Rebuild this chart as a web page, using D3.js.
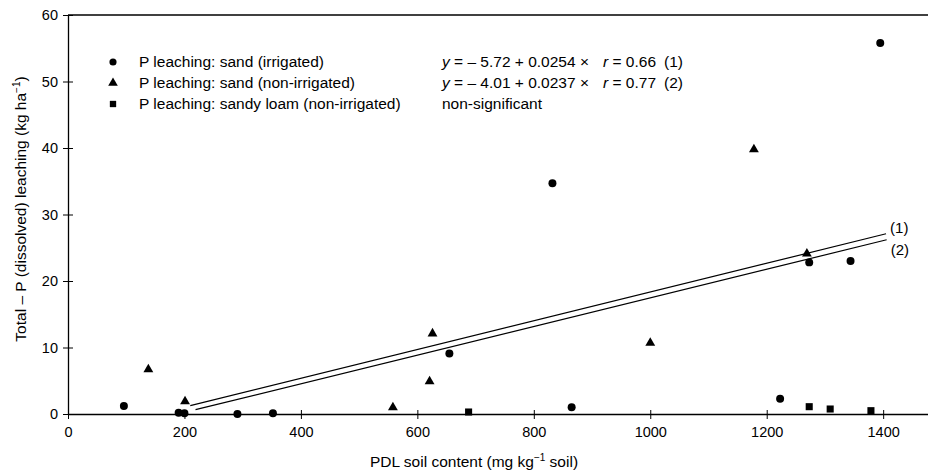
<!DOCTYPE html>
<html>
<head>
<meta charset="utf-8">
<script src="https://cdn.jsdelivr.net/npm/d3@7"></script>
<style>
  body { margin: 0; background: #fff; }
  svg { display: block; font-family: "Liberation Sans", Arial, sans-serif; }
</style>
</head>
<body>
<div id="chart"></div>
<script>
// sand (irrigated) - circles
const sandIrrX = [96, 190, 200, 291, 352, 655, 832, 865, 1223, 1273, 1344, 1395];
const sandIrrY = [1.2, 0.2, 0.1, 0.0, 0.1, 9.1, 34.7, 1.0, 2.3, 22.8, 23.0, 55.8];
// sand (non-irrigated) - triangles
const sandNonX = [138, 201, 558, 621, 626, 1000, 1178, 1269];
const sandNonY = [6.7, 1.9, 1.0, 4.9, 12.1, 10.7, 39.8, 24.1];
// sandy loam (non-irrigated) - squares
const loamX = [688, 1273, 1309, 1379];
const loamY = [0.3, 1.1, 0.75, 0.5];
// regression lines as drawn (start/end)
const line1 = [[210, 1.25], [1405, 27.1]];
const line2 = [[219, 0.65], [1406, 26.2]];

const xTicks = [0, 200, 400, 600, 800, 1000, 1200, 1400];
const yTicks = [0, 10, 20, 30, 40, 50, 60];

const width = 928, height = 472;
const margin = {top: 15, right: 0, bottom: 58, left: 68};

const svg = d3.select("#chart").append("svg")
  .attr("width", width)
  .attr("height", height);

const x = d3.scaleLinear().domain([0, 1477]).range([margin.left, width - margin.right]);
const y = d3.scaleLinear().domain([0, 60]).range([height - margin.bottom, margin.top]);

// frame: top line, left and bottom axes
svg.append("line")
  .attr("x1", x(0)).attr("x2", x(1477))
  .attr("y1", y(60)).attr("y2", y(60))
  .style("stroke", "#000").style("stroke-width", 1.3);

const xAxis = svg.append("g")
  .attr("transform", "translate(0," + y(0) + ")")
  .call(d3.axisBottom(x).tickValues(xTicks).tickFormat(d3.format("d"))
    .tickSize(5).tickSizeOuter(0).tickPadding(8));
xAxis.selectAll(".tick line").attr("y1", -4);
xAxis.select(".domain").style("stroke-width", 1.3);
xAxis.selectAll("text").style("font-size", "14.5px").style("fill", "#000");

const yAxis = svg.append("g")
  .attr("transform", "translate(" + x(0) + ",0)")
  .call(d3.axisLeft(y).tickValues(yTicks).tickSize(5).tickSizeOuter(0).tickPadding(5));
yAxis.selectAll(".tick line").attr("x1", 5).attr("x2", -5);
yAxis.select(".domain").style("stroke-width", 1.3);
yAxis.selectAll("text").style("font-size", "14.5px").style("fill", "#000");

// axis titles
const yt = svg.append("text")
  .attr("transform", "translate(26,209) rotate(-90)")
  .attr("text-anchor", "middle")
  .style("font-size", "15.5px");
yt.append("tspan").text("Total \u2013 P (dissolved) leaching (kg ha");
yt.append("tspan").attr("dy", -6).style("font-size", "10px").text("\u22121");
yt.append("tspan").attr("dy", 6).text(")");

const xt = svg.append("text")
  .attr("x", 474).attr("y", 467)
  .attr("text-anchor", "middle")
  .style("font-size", "15.5px");
xt.append("tspan").text("PDL soil content (mg kg");
xt.append("tspan").attr("dy", -6).style("font-size", "10px").text("\u22121");
xt.append("tspan").attr("dy", 6).text(" soil)");

// regression lines
const lineGen = d3.line().x(d => x(d[0])).y(d => y(d[1]));
[line1, line2].forEach(l => {
  svg.append("path").datum(l)
    .attr("d", lineGen)
    .style("fill", "none")
    .style("stroke", "#000")
    .style("stroke-width", 1.2);
});
svg.append("text").attr("x", x(line1[1][0]) + 4).attr("y", y(line1[1][1]) - 1)
  .style("font-size", "15px").text("(1)");
svg.append("text").attr("x", x(line2[1][0]) + 4).attr("y", y(line2[1][1]) + 15)
  .style("font-size", "15px").text("(2)");

// markers
const circles = d3.symbol().type(d3.symbolCircle).size(50);
const tris = d3.symbol().type(d3.symbolTriangle).size(42);
const squares = d3.symbol().type(d3.symbolSquare).size(50);

function drawPoints(xs, ys, sym) {
  svg.append("g").selectAll("path")
    .data(xs.map((v, i) => [v, ys[i]]))
    .enter().append("path")
    .attr("d", sym)
    .attr("transform", d => "translate(" + x(d[0]) + "," + y(d[1]) + ")")
    .style("fill", "#000");
}
drawPoints(sandIrrX, sandIrrY, circles);
drawPoints(sandNonX, sandNonY, tris);
drawPoints(loamX, loamY, squares);

// legend
const legendRows = [
  {sym: circles, label: "P leaching: sand (irrigated)", eq: ["\u2013 5.72 + 0.0254 \u00d7", "0.66", "(1)"]},
  {sym: tris, label: "P leaching: sand (non-irrigated)", eq: ["\u2013 4.01 + 0.0237 \u00d7", "0.77", "(2)"]},
  {sym: squares, label: "P leaching: sandy loam (non-irrigated)", eq: null}
];
legendRows.forEach((r, i) => {
  const ly = 62 + i * 21;
  svg.append("path").attr("d", r.sym.size(40))
    .attr("transform", "translate(113," + ly + ")")
    .style("fill", "#000");
  svg.append("text").attr("x", 139).attr("y", ly + 5)
    .style("font-size", "15.5px").text(r.label);
  if (r.eq) {
    const t = svg.append("text").attr("x", 442).attr("y", ly + 5).style("font-size", "15.5px");
    t.append("tspan").style("font-style", "italic").text("y");
    t.append("tspan").text(" = " + r.eq[0]);
    const t2 = svg.append("text").attr("x", 603).attr("y", ly + 5).style("font-size", "15.5px");
    t2.append("tspan").style("font-style", "italic").text("r");
    t2.append("tspan").text(" = " + r.eq[1]);
    svg.append("text").attr("x", 664).attr("y", ly + 5)
      .style("font-size", "15.5px").text(r.eq[2]);
  } else {
    svg.append("text").attr("x", 442).attr("y", ly + 5)
      .style("font-size", "15.5px").text("non-significant");
  }
});
</script>
</body>
</html>
